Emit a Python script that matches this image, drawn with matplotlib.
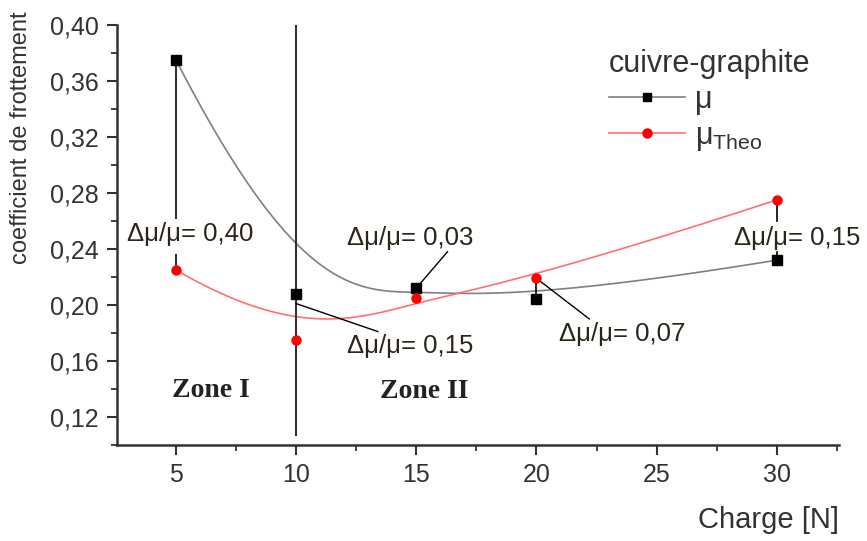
import numpy as np
import matplotlib
matplotlib.use("Agg")
import matplotlib.pyplot as plt
from matplotlib.ticker import MultipleLocator, FuncFormatter

plt.rcParams['font.family'] = ['Liberation Sans', 'DejaVu Sans']
plt.rcParams['mathtext.fontset'] = 'custom'
plt.rcParams['mathtext.rm'] = 'Liberation Sans'

# data
charge = [5, 10, 15, 20, 30]
mu = [0.375, 0.208, 0.212, 0.204, 0.232]
mu_theo = [0.225, 0.175, 0.205, 0.219, 0.275]
delta_labels = ["0,40", "0,15", "0,03", "0,07", "0,15"]
zone_labels = ["Zone I", "Zone II"]


def bspline(xs, ys, n=300, k=3):
    # clamped uniform cubic B-spline, data used as control points (Origin style)
    P = np.column_stack([xs, ys]).astype(float)
    m = len(P)
    inner = np.arange(1, m - k) / (m - k)
    t = np.concatenate([np.zeros(k + 1), inner, np.ones(k + 1)])
    u = np.linspace(0, 1 - 1e-9, n)
    out = []
    for uu in u:
        N = np.array([1.0 if t[i] <= uu < t[i + 1] else 0.0 for i in range(len(t) - 1)])
        for d in range(1, k + 1):
            Nn = np.zeros(len(t) - 1 - d)
            for i in range(len(Nn)):
                a = 0.0
                if t[i + d] - t[i] > 0:
                    a = (uu - t[i]) / (t[i + d] - t[i]) * N[i]
                b = 0.0
                if t[i + d + 1] - t[i + 1] > 0:
                    b = (t[i + d + 1] - uu) / (t[i + d + 1] - t[i + 1]) * N[i + 1]
                Nn[i] = a + b
            N = Nn
        out.append(N @ P)
    out.append(P[-1])
    out = np.array(out)
    return out[:, 0], out[:, 1]


fig = plt.figure(figsize=(8.67, 5.41), dpi=100)
ax = fig.add_axes([0.135, 0.1775, 0.833, 0.7765])

gx, gy = bspline(charge, mu)
rx, ry = bspline(charge, mu_theo)
ax.plot(gx, gy, color='#808080', lw=1.2, zorder=2)
ax.plot(rx, ry, color='#ff7070', lw=1.2, zorder=2)
ax.plot(charge, mu, ls='none', marker='s', ms=6.5, color='black', zorder=4)
ax.plot(charge, mu_theo, ls='none', marker='o', ms=6.5, color='#ff0000', zorder=4)

# legend handles
h1, = ax.plot([], [], color='#808080', lw=1.2, marker='s', ms=6, mfc='black', mec='black')
h2, = ax.plot([], [], color='#ff7070', lw=1.2, marker='o', ms=6.5, mfc='#ff0000', mec='#ff0000')
leg = ax.legend([h1, h2], ['μ', 'μ$_{\\rm Theo}$'], title='cuivre-graphite', frameon=False,
                loc='upper left', bbox_to_anchor=(0.66, 0.98), fontsize=22, title_fontsize=22,
                handlelength=2.5, handletextpad=0.33, labelspacing=0.2, borderpad=0)
leg._legend_box.align = 'left'
plt.setp(leg.get_title(), color='#333333')
for txt in leg.get_texts():
    txt.set_color('#333333')

# zone separator
ax.plot([10, 10], [0.107, 0.402], color='#333333', lw=1.5, zorder=3)

tcol = '#2b2418'
tfs = 18.5
# x=5 : vertical line with a gap for the text
ax.plot([charge[0], charge[0]], [mu[0], 0.262], color='#333333', lw=1.5, zorder=3)
ax.plot([charge[0], charge[0]], [0.236, mu_theo[0]], color='#333333', lw=1.5, zorder=3)
ax.text(2.97, 0.251, "Δμ/μ= " + delta_labels[0], fontsize=tfs, color=tcol, va='center', ha='left')

# x=10
ax.plot([charge[1], 13.4], [0.201, 0.181], color='black', lw=1, zorder=3)
ax.text(12.12, 0.1705, "Δμ/μ= " + delta_labels[1], fontsize=tfs, color=tcol, va='center', ha='left')

# x=15
ax.plot([charge[2], 16.3], [mu[2], 0.238], color='black', lw=1, zorder=3)
ax.text(12.12, 0.248, "Δμ/μ= " + delta_labels[2], fontsize=tfs, color=tcol, va='center', ha='left')

# x=20
ax.plot([charge[3], charge[3]], [mu_theo[3], mu[3]], color='black', lw=1.2, zorder=3)
ax.plot([charge[3], 22.2], [mu_theo[3], 0.190], color='black', lw=1, zorder=3)
ax.text(20.94, 0.1795, "Δμ/μ= " + delta_labels[3], fontsize=tfs, color=tcol, va='center', ha='left')

# x=30
ax.plot([charge[4], charge[4]], [mu_theo[4], 0.260], color='black', lw=1.2, zorder=3)
ax.plot([charge[4], charge[4]], [0.2375, mu[4]], color='black', lw=1.2, zorder=3)
ax.text(28.22, 0.248, "Δμ/μ= " + delta_labels[4], fontsize=tfs, color=tcol, va='center', ha='left')

ax.text(6.45, 0.139, zone_labels[0], fontsize=20, fontweight='bold', family='Liberation Serif',
        color='#222222', ha='center', va='center')
ax.text(15.33, 0.138, zone_labels[1], fontsize=20, fontweight='bold', family='Liberation Serif',
        color='#222222', ha='center', va='center')

ax.set_xlim(2.55, 32.6)
ax.set_ylim(0.10, 0.40)
ax.xaxis.set_major_locator(MultipleLocator(5))
ax.xaxis.set_minor_locator(MultipleLocator(2.5))
ax.yaxis.set_major_locator(MultipleLocator(0.04))
ax.yaxis.set_minor_locator(MultipleLocator(0.02))
ax.yaxis.set_major_formatter(FuncFormatter(lambda v, p: ("%.2f" % v).replace('.', ',')))
ax.set_yticks(np.arange(0.12, 0.401, 0.04))

for s in ['top', 'right']:
    ax.spines[s].set_visible(False)
for s in ['left', 'bottom']:
    ax.spines[s].set_linewidth(1.8)
    ax.spines[s].set_color('#333333')
ax.tick_params(which='major', direction='out', length=7, width=1.5, colors='#333333',
               labelsize=18, labelcolor='#333333', pad=6)
ax.tick_params(which='minor', direction='out', length=4, width=1.3, colors='#333333')

ax.set_ylabel("coefficient de frottement", fontsize=17, color='#333333')
ax.yaxis.set_label_coords(-0.118, 0.731)
ax.set_xlabel("Charge [N]", fontsize=21, color='#333333')
ax.xaxis.set_label_coords(1.0, -0.145)
ax.xaxis.label.set_ha('right')

fig.savefig("out.png", dpi=100)
